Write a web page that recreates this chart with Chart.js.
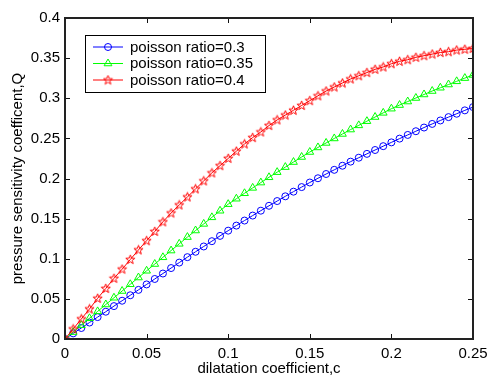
<!DOCTYPE html>
<html><head><meta charset="utf-8">
<script src="https://cdn.jsdelivr.net/npm/chart.js@4.4.1/dist/chart.umd.min.js"></script>
<style>html,body{margin:0;padding:0;background:#fff}canvas{display:block}</style>
</head><body>
<canvas id="c" width="487" height="378"></canvas>
<script>
const dilatation = [0,0.005,0.01,0.015,0.02,0.025,0.03,0.035,0.04,0.045,0.05,0.055,0.06,0.065,0.07,0.075,0.08,0.085,0.09,0.095,0.1,0.105,0.11,0.115,0.12,0.125,0.13,0.135,0.14,0.145,0.15,0.155,0.16,0.165,0.17,0.175,0.18,0.185,0.19,0.195,0.2,0.205,0.21,0.215,0.22,0.225,0.23,0.235,0.24,0.245,0.25];
const ratio03 = [0,0.007,0.0137,0.0205,0.0273,0.034,0.041,0.0477,0.0545,0.0612,0.068,0.0748,0.0816,0.0884,0.0952,0.102,0.1087,0.1153,0.1219,0.1285,0.135,0.1413,0.1476,0.1538,0.1599,0.166,0.1719,0.1778,0.1836,0.1893,0.195,0.2003,0.2056,0.2108,0.2159,0.221,0.2259,0.2307,0.2355,0.2403,0.245,0.2497,0.2543,0.2589,0.2635,0.268,0.2723,0.2765,0.2807,0.2849,0.289];
const ratio035 = [0,0.0086,0.0172,0.0258,0.0344,0.043,0.0514,0.0598,0.0682,0.0766,0.085,0.0934,0.1018,0.1102,0.1186,0.127,0.1352,0.1434,0.1516,0.1598,0.168,0.1748,0.1816,0.1883,0.1949,0.2015,0.2079,0.2142,0.2205,0.2268,0.233,0.2387,0.2443,0.2499,0.2555,0.261,0.2662,0.2714,0.2766,0.2818,0.287,0.2915,0.2959,0.3003,0.3047,0.309,0.3131,0.3171,0.3211,0.3251,0.329];
const ratio04 = [0,0.0125,0.025,0.0374,0.0507,0.063,0.0756,0.087,0.099,0.111,0.1225,0.134,0.146,0.157,0.167,0.177,0.187,0.197,0.207,0.216,0.225,0.234,0.243,0.251,0.258,0.266,0.273,0.279,0.285,0.291,0.297,0.303,0.309,0.314,0.319,0.324,0.328,0.332,0.336,0.339,0.343,0.346,0.348,0.351,0.353,0.355,0.357,0.358,0.360,0.361,0.362];
const seriesNames = ['poisson ratio=0.3','poisson ratio=0.35','poisson ratio=0.4'];
const xTickLabels = ['0','0.05','0.1','0.15','0.2','0.25'];
const yTickLabels = ['0','0.05','0.1','0.15','0.2','0.25','0.3','0.35','0.4'];

const FONT = '"Liberation Sans", Arial, sans-serif';

function makeStar(color){
  const cv = document.createElement('canvas');
  cv.width = 11; cv.height = 11;
  const g = cv.getContext('2d');
  g.strokeStyle = color; g.lineWidth = 1;
  g.beginPath();
  const R = 4.8, r = 2.0, cx = 5.5, cy = 5.7;
  for (let k = 0; k < 10; k++) {
    const a = -Math.PI/2 + k*Math.PI/5;
    const rad = (k % 2 === 0) ? R : r;
    const px = cx + rad*Math.cos(a), py = cy + rad*Math.sin(a);
    if (k === 0) g.moveTo(px, py); else g.lineTo(px, py);
  }
  g.closePath(); g.stroke();
  return cv;
}
const starImg = makeStar('#ff0000');

const toPts = arr => arr.map((v, i) => ({x: dilatation[i], y: v}));

const datasets = [
  {label: seriesNames[0], data: toPts(ratio03), borderColor: '#0000ff', pointBorderColor: '#0000ff',
   pointStyle: 'circle', pointRadius: 3.5, order: 2},
  {label: seriesNames[1], data: toPts(ratio035), borderColor: '#00ff00', pointBorderColor: '#00ff00',
   pointStyle: 'triangle', pointRadius: 4.5, order: 1},
  {label: seriesNames[2], data: toPts(ratio04), borderColor: '#ff0000', pointBorderColor: '#ff0000',
   pointStyle: starImg, pointRadius: 5, order: 0}
].map(d => Object.assign({borderWidth: 1, pointBorderWidth: 1, pointBackgroundColor: 'rgba(0,0,0,0)',
  tension: 0, fill: false, pointHoverRadius: 0}, d));

const framePlugin = {
  id: 'frame',
  afterDraw(chart) {
    const ctx = chart.ctx, a = chart.chartArea;
    const xs = chart.scales.x, ys = chart.scales.y;
    ctx.save();
    ctx.strokeStyle = '#111';
    ctx.lineWidth = 1;
    const tl = 5;
    xs.ticks.forEach(t => {
      const px = Math.round(xs.getPixelForValue(t.value)) + 0.5;
      ctx.beginPath();
      ctx.moveTo(px, a.bottom); ctx.lineTo(px, a.bottom - tl);
      ctx.moveTo(px, a.top); ctx.lineTo(px, a.top + tl);
      ctx.stroke();
    });
    ys.ticks.forEach(t => {
      const py = Math.round(ys.getPixelForValue(t.value)) + 0.5;
      ctx.beginPath();
      ctx.moveTo(a.left, py); ctx.lineTo(a.left + tl, py);
      ctx.moveTo(a.right, py); ctx.lineTo(a.right - tl, py);
      ctx.stroke();
    });
    ctx.lineWidth = 2;
    ctx.strokeStyle = '#222';
    ctx.strokeRect(a.left, a.top, a.right - a.left, a.bottom - a.top);

    // legend box
    const bx = 85.5, by = 35.5, bw = 180, bh = 57;
    ctx.fillStyle = '#fff';
    ctx.fillRect(bx, by, bw, bh);
    ctx.lineWidth = 1;
    ctx.strokeStyle = '#000';
    ctx.strokeRect(bx, by, bw, bh);
    const rows = [47, 63.5, 80];
    ctx.font = '15px ' + FONT;
    ctx.textBaseline = 'middle';
    ctx.textAlign = 'left';
    chart.data.datasets.forEach((ds, i) => {
      const y = rows[i];
      ctx.strokeStyle = ds.borderColor;
      ctx.lineWidth = 1;
      ctx.beginPath(); ctx.moveTo(93, y); ctx.lineTo(123, y); ctx.stroke();
      const mx = 108;
      if (ds.pointStyle === 'circle') {
        ctx.beginPath(); ctx.arc(mx, y, 3.5, 0, Math.PI*2); ctx.stroke();
      } else if (ds.pointStyle === 'triangle') {
        const r = 4.5;
        ctx.beginPath();
        ctx.moveTo(mx, y - r);
        ctx.lineTo(mx + r*Math.cos(Math.PI/6), y + r*0.5);
        ctx.lineTo(mx - r*Math.cos(Math.PI/6), y + r*0.5);
        ctx.closePath(); ctx.stroke();
      } else {
        ctx.drawImage(ds.pointStyle, mx - 5.5, y - 5.5);
      }
      ctx.fillStyle = '#000';
      ctx.fillText(ds.label, 130, y + 0.5);
    });
    ctx.restore();
  }
};

new Chart(document.getElementById('c'), {
  type: 'line',
  data: {datasets},
  options: {
    responsive: false,
    animation: false,
    devicePixelRatio: 1,
    layout: {padding: {left: 0, right: 14, top: 18, bottom: 0}},
    plugins: {legend: {display: false}, tooltip: {enabled: false}},
    elements: {line: {borderWidth: 1}},
    scales: {
      x: {
        type: 'linear', min: 0, max: 0.25,
        grid: {display: false, drawTicks: false},
        border: {display: false},
        ticks: {stepSize: 0.05, autoSkip: false, maxRotation: 0, padding: 6, color: '#000',
          font: {family: FONT, size: 15},
          callback: (v, i) => xTickLabels[i]},
        title: {display: true, text: 'dilatation coefficient,c', color: '#000',
          font: {family: FONT, size: 15}, padding: 0},
        afterFit(s) { s.height = 39; s.paddingLeft = 0; s.paddingRight = 0; }
      },
      y: {
        type: 'linear', min: 0, max: 0.4,
        grid: {display: false, drawTicks: false},
        border: {display: false},
        ticks: {stepSize: 0.05, autoSkip: false, padding: 5, color: '#000',
          font: {family: FONT, size: 15},
          callback: (v, i) => yTickLabels[i]},
        title: {display: true, text: 'pressure sensitivity coefficent,Q', color: '#000',
          font: {family: FONT, size: 15}, padding: {top: 9, bottom: 0}},
        afterFit(s) { s.width = 65; s.paddingTop = 0; s.paddingBottom = 0; }
      }
    }
  },
  plugins: [framePlugin]
});
</script>
</body></html>
